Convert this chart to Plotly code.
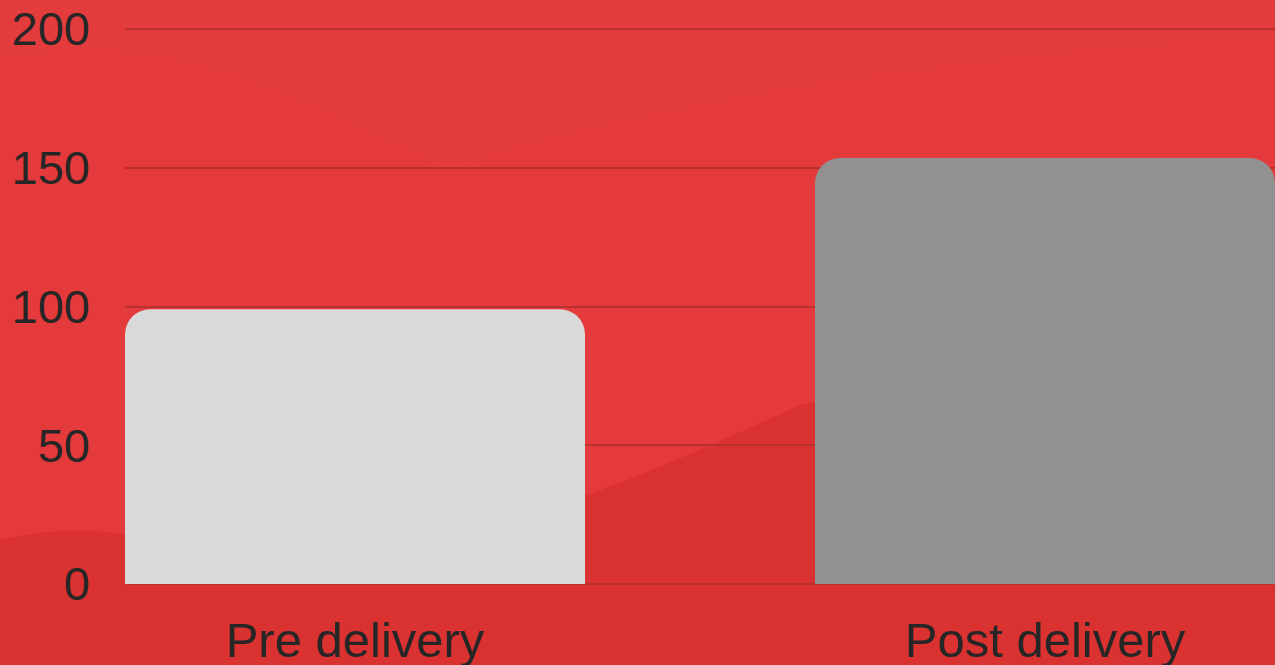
import plotly.graph_objects as go

categories = ["Pre delivery", "Post delivery"]
values = [99, 153.5]
bar_colors = ["#d9d9d9", "#919191"]
y_ticks = [0, 50, 100, 150, 200]

W, H = 1275, 665
ML, MR, MT, MB = 125, 0, 27, 81
PLOT_W = W - ML - MR
PLOT_H = H - MT - MB
PX_PER_UNIT = 555 / 200


def pp(px, py):
    """pixel position -> paper coords (decorative background only)"""
    return (px - ML) / PLOT_W, (H - MB - py) / PLOT_H


def path(points):
    out = []
    for cmd, pts in points:
        coords = " ".join(f"{pp(*p)[0]:.4f},{pp(*p)[1]:.4f}" for p in pts)
        out.append(f"{cmd} {coords}")
    return " ".join(out) + " Z"


fig = go.Figure()
fig.add_trace(go.Bar(
    x=list(range(len(categories))),
    y=values,
    marker=dict(color=bar_colors, line=dict(width=0)),
    width=2/3,
    hoverinfo="skip",
))

# subtle background landscape
hill = path([
    ("M", [(0, 665)]), ("L", [(0, 540)]),
    ("C", [(40, 530), (90, 528), (130, 535)]),
    ("L", [(400, 520)]), ("L", [(590, 494)]),
    ("C", [(650, 472), (720, 442), (800, 405)]),
    ("L", [(1275, 330)]), ("L", [(1275, 665)]),
])
fig.add_shape(type="path", xref="paper", yref="paper", layer="below",
              path=hill, fillcolor="#da3131", line=dict(width=0))
light = path([
    ("M", [(0, 0)]), ("L", [(1275, 0)]), ("L", [(1275, 40)]),
    ("C", [(900, 60), (600, 120), (450, 170)]),
    ("C", [(300, 110), (200, 30), (0, 60)]),
])
fig.add_shape(type="path", xref="paper", yref="paper", layer="below",
              path=light, fillcolor="rgba(255,255,255,0.012)", line=dict(width=0))

fig.update_layout(
    width=W, height=H,
    margin=dict(l=ML, r=MR, t=MT, b=MB, pad=0),
    paper_bgcolor="#e43a3b",
    plot_bgcolor="rgba(0,0,0,0)",
    barcornerradius=25,
    showlegend=False,
    font=dict(family="Liberation Sans, Arial, sans-serif", size=47, color="#262626"),
    xaxis=dict(
        tickmode="array", tickvals=list(range(len(categories))), ticktext=categories,
        range=[-1/3, 4/3], showgrid=False, zeroline=False, showline=False,
        ticks="", ticklabelstandoff=23, tickfont=dict(size=49), automargin=False,
    ),
    yaxis=dict(
        range=[0, PLOT_H / PX_PER_UNIT], tickvals=y_ticks, showgrid=True,
        gridcolor="#b73131", gridwidth=1.5, zeroline=True, zerolinecolor="#b73131",
        zerolinewidth=1.5, showline=False, ticks="", ticklabelstandoff=34,
        automargin=False,
    ),
)

fig.write_html("out.html", config={"displayModeBar": False},
               post_script="document.body.style.margin='0px';")
